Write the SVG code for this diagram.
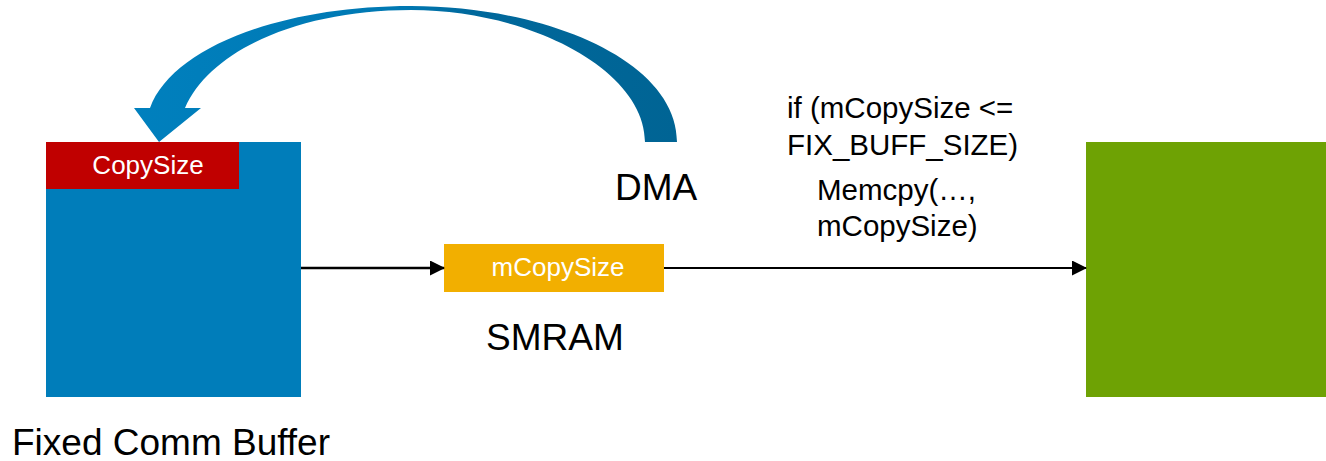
<svg xmlns="http://www.w3.org/2000/svg" width="1326" height="461" viewBox="0 0 1326 461">
  <style>
    .lbl { font-family: "Liberation Sans", Arial, sans-serif; }
    .big { font-size: 37px; fill: #000; }
    .code { font-size: 29.5px; fill: #000; }
    .inbox { font-size: 26px; fill: #fff; text-anchor: middle; }
    .conn { stroke: #000; stroke-width: 2.5; fill: none; marker-end: url(#arrow); }
  </style>
  <defs>
    <marker id="arrow" markerWidth="15" markerHeight="15" refX="14" refY="7.5" orient="auto" markerUnits="userSpaceOnUse" viewBox="0 0 15 15">
      <path d="M0,0 L15,7.5 L0,15 Z" fill="#000"/>
    </marker>
    <linearGradient id="dmaFill" x1="130" y1="0" x2="680" y2="0" gradientUnits="userSpaceOnUse">
      <stop offset="0" stop-color="#0080BE"/>
      <stop offset="0.5" stop-color="#0078B2"/>
      <stop offset="0.62" stop-color="#00689C"/>
      <stop offset="1" stop-color="#006494"/>
    </linearGradient>
  </defs>

  <!-- Fixed communication buffer -->
  <g id="fixed-comm-buffer">
    <rect x="46" y="142" width="255" height="255" fill="#007DBA"/>
    <text class="lbl big" x="12" y="455">Fixed Comm Buffer</text>
  </g>

  <!-- CopySize field inside the buffer -->
  <g id="copysize">
    <rect x="46" y="142" width="193" height="47" fill="#C00000"/>
    <text class="lbl inbox" x="148" y="174">CopySize</text>
  </g>

  <!-- SMRAM copy of the size -->
  <g id="smram">
    <rect x="444" y="244" width="220" height="48" fill="#F2AF00"/>
    <text class="lbl inbox" x="558" y="276">mCopySize</text>
    <text class="lbl big" x="486" y="350">SMRAM</text>
  </g>

  <!-- Destination buffer -->
  <g id="destination">
    <rect x="1086" y="142" width="240" height="255" fill="#6EA204"/>
  </g>

  <!-- DMA curved arrow -->
  <g id="dma">
    <path d="M677,142 C677,60 545,6 411,6 C280,6 172,48 150,108 L134,108 L159,142 L201,108 L185,108 C210,50 300,10 411,10 C530,10 645,70 645,142 Z" fill="url(#dmaFill)"/>
    <text class="lbl big" x="615" y="200">DMA</text>
  </g>

  <!-- Condition and copy annotation -->
  <g id="check">
    <text class="lbl code" x="787" y="118">if (mCopySize &lt;=</text>
    <text class="lbl code" x="787" y="155">FIX_BUFF_SIZE)</text>
    <text class="lbl code" x="817" y="200">Memcpy(…,</text>
    <text class="lbl code" x="817" y="236">mCopySize)</text>
  </g>

  <!-- Connectors -->
  <g id="connectors">
    <line class="conn" x1="301" y1="268" x2="444" y2="268"/>
    <line class="conn" x1="664" y1="268" x2="1086" y2="268" style="stroke-width:2"/>
  </g>
</svg>
